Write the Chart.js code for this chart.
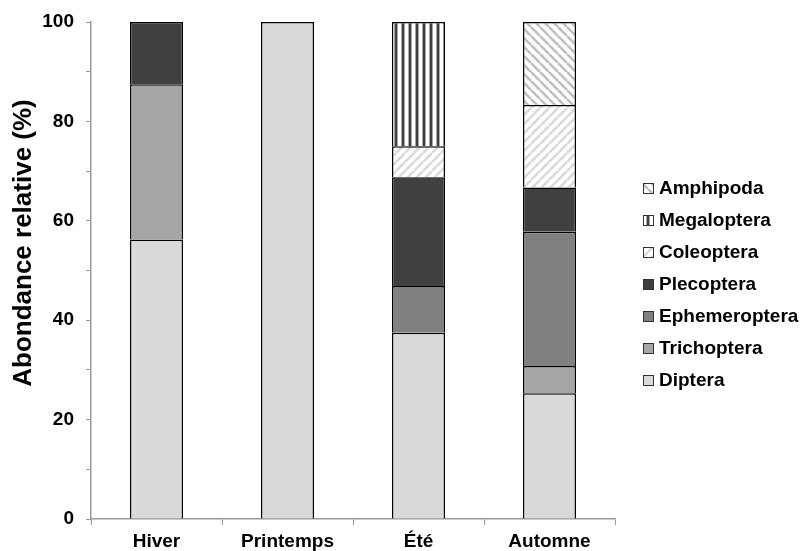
<!DOCTYPE html>
<html>
<head>
<meta charset="utf-8">
<script src="https://cdn.jsdelivr.net/npm/chart.js@4"></script>
<style>
  html, body { margin: 0; padding: 0; background: #ffffff; }
  #wrap { width: 802px; height: 551px; }
</style>
</head>
<body>
<div id="wrap"><canvas id="myChart" width="802" height="551"></canvas></div>
<script>
const seasons = ['Hiver', 'Printemps', 'Été', 'Automne'];
const diptera       = [56.25, 100, 37.5, 25.3];
const trichoptera   = [31.25, null, null, 5.5];
const ephemeroptera = [null, null, 9.375, 27.0];
const plecoptera    = [12.5, null, 21.875, 8.9];
const coleoptera    = [null, null, 6.25, 16.6];
const megaloptera   = [null, null, 25, null];
const amphipoda     = [null, null, null, 16.7];
const yTicks = [0, 20, 40, 60, 80, 100];

const FONT = "Arial, 'Liberation Sans', sans-serif";
Chart.defaults.font.family = FONT;
Chart.defaults.color = '#000000';

// hatch fills
function diagPattern(color, size, dir) {
  const c = document.createElement('canvas');
  c.width = size; c.height = size;
  const g = c.getContext('2d');
  g.fillStyle = '#ffffff';
  g.fillRect(0, 0, size, size);
  g.strokeStyle = color;
  g.lineWidth = 2.6;
  g.beginPath();
  for (let k = -1; k <= 1; k++) {
    if (dir > 0) {
      g.moveTo(k * size, size); g.lineTo(k * size + size, 0);
    } else {
      g.moveTo(k * size, 0); g.lineTo(k * size + size, size);
    }
  }
  g.stroke();
  return g.createPattern(c, 'repeat');
}
function stripePattern(color) {
  const c = document.createElement('canvas');
  c.width = 7; c.height = 7;
  const g = c.getContext('2d');
  g.fillStyle = '#ffffff';
  g.fillRect(0, 0, 7, 7);
  g.fillStyle = '#a6a6a6';
  g.fillRect(2, 0, 4, 7);
  g.fillStyle = color;
  g.fillRect(3, 0, 2, 7);
  return g.createPattern(c, 'repeat');
}
const ctx0 = document.getElementById('myChart').getContext('2d');

const yTitle = {
  id: 'yTitle',
  afterDraw(chart) {
    const c = chart.ctx;
    c.save();
    c.translate(24, 243);
    c.rotate(-Math.PI / 2);
    c.font = 'bold 26px ' + FONT;
    c.fillStyle = '#000';
    c.textAlign = 'center';
    c.textBaseline = 'middle';
    c.fillText('Abondance relative (%)', 0, 0);
    c.restore();
  }
};

const sideLegend = {
  id: 'sideLegend',
  afterDraw(chart) {
    const c = chart.ctx;
    const area = chart.chartArea;
    const sets = chart.data.datasets.slice().reverse();
    const x = area.right + 28;
    let y = 188;
    c.save();
    c.font = 'bold 19px ' + FONT;
    c.textBaseline = 'middle';
    sets.forEach(ds => {
      c.fillStyle = ds.backgroundColor;
      c.fillRect(x, y - 5, 11, 11);
      c.strokeStyle = '#333333';
      c.lineWidth = 1;
      c.strokeRect(x + 0.5, y - 4.5, 10, 10);
      c.fillStyle = '#000';
      c.fillText(ds.label, x + 16, y + 1);
      y += 32;
    });
    c.restore();
  }
};

function makeSet(label, data, fill) {
  return {
    label: label,
    data: data,
    backgroundColor: fill,
    borderColor: '#000000',
    borderWidth: 1.5,
    categoryPercentage: 1,
    barPercentage: 0.405
  };
}

new Chart(ctx0, {
  type: 'bar',
  data: {
    labels: seasons,
    datasets: [
      makeSet('Diptera', diptera, '#d9d9d9'),
      makeSet('Trichoptera', trichoptera, '#a6a6a6'),
      makeSet('Ephemeroptera', ephemeroptera, '#808080'),
      makeSet('Plecoptera', plecoptera, '#404040'),
      makeSet('Coleoptera', coleoptera, diagPattern('#d9d9d9', 9, 1)),
      makeSet('Megaloptera', megaloptera, stripePattern('#404040')),
      makeSet('Amphipoda', amphipoda, diagPattern('#bfbfbf', 9, -1))
    ]
  },
  options: {
    responsive: false,
    animation: false,
    layout: { padding: { left: 0, right: 187, top: 22, bottom: 0 } },
    plugins: {
      legend: { display: false },
      tooltip: { enabled: false }
    },
    scales: {
      x: {
        stacked: true,
        grid: { display: true, drawOnChartArea: false, offset: true, tickLength: 6, tickColor: '#999999' },
        border: { color: '#999999', width: 1.5 },
        ticks: { font: { size: 19, weight: 'bold' }, padding: 5, color: '#000' },
        afterFit(s) { s.height = 32; s.paddingLeft = 0; s.paddingRight = 0; }
      },
      y: {
        stacked: true,
        min: 0,
        max: 100,
        grid: { display: true, drawOnChartArea: false, tickLength: 5, tickColor: '#999999' },
        border: { color: '#999999', width: 1.5 },
        ticks: {
          stepSize: 10,
          padding: 12,
          font: { size: 19, weight: 'bold' },
          color: '#000',
          callback: v => yTicks.includes(v) ? v : ''
        },
        afterFit(s) { s.width = 91; s.paddingTop = 0; s.paddingBottom = 0; }
      }
    }
  },
  plugins: [yTitle, sideLegend]
});
</script>
</body>
</html>
